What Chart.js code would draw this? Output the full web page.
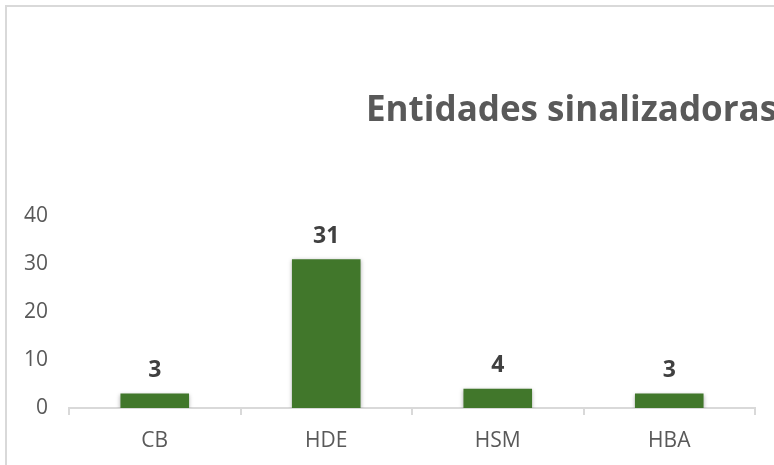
<!DOCTYPE html>
<html>
<head>
<meta charset="utf-8">
<script src="https://cdn.jsdelivr.net/npm/chart.js@4"></script>
<style>
  html, body { margin: 0; padding: 0; background: #ffffff; }
  #wrap { width: 774px; height: 465px; }
</style>
</head>
<body>
<div id="wrap"><canvas id="entidadesChart" width="774" height="465"></canvas></div>
<script>
// Chart data
const categories = ['CB', 'HDE', 'HSM', 'HBA'];
const counts = [3, 31, 4, 3];
const yTicks = [0, 10, 20, 30, 40];
const chartTitle = 'Entidades sinalizadoras';

const FONT = "'Open Sans', sans-serif";

// Outer frame + title (title runs off the right edge, as in the original)
const framePlugin = {
    id: 'frame',
    beforeDraw(chart) {
        const ctx = chart.ctx;
        ctx.save();
        ctx.fillStyle = '#ffffff';
        ctx.fillRect(0, 0, chart.width, chart.height);
        ctx.strokeStyle = '#d9d9d9';
        ctx.lineWidth = 2;
        ctx.strokeRect(6, 6, chart.width + 20, chart.height + 20);
        ctx.fillStyle = '#595959';
        ctx.font = 'bold 35px ' + FONT;
        ctx.textBaseline = 'middle';
        ctx.textAlign = 'left';
        ctx.fillText(chartTitle, 366, 111);
        ctx.restore();
    }
};

// Soft shadow under the bars
const barShadow = {
    id: 'barShadow',
    beforeDatasetsDraw(chart) {
        const ctx = chart.ctx;
        ctx.save();
        ctx.shadowColor = 'rgba(0, 0, 0, 0.3)';
        ctx.shadowBlur = 4;
        ctx.shadowOffsetX = 0;
        ctx.shadowOffsetY = 1;
    },
    afterDatasetsDraw(chart) {
        chart.ctx.restore();
    }
};

// Value labels above bars
const valueLabels = {
    id: 'valueLabels',
    afterDatasetsDraw(chart) {
        const ctx = chart.ctx;
        const meta = chart.getDatasetMeta(0);
        ctx.save();
        ctx.fillStyle = '#404040';
        ctx.font = 'bold 23px ' + FONT;
        ctx.textAlign = 'center';
        ctx.textBaseline = 'middle';
        meta.data.forEach(function(bar, i) {
            ctx.fillText(String(counts[i]), bar.x, bar.y - 23);
        });
        ctx.restore();
    }
};

const ctx = document.getElementById('entidadesChart').getContext('2d');
new Chart(ctx, {
    type: 'bar',
    data: {
        labels: categories,
        datasets: [{
            data: counts,
            backgroundColor: '#41772b',
            borderWidth: 0,
            barPercentage: 0.4,
            categoryPercentage: 1.0
        }]
    },
    options: {
        responsive: false,
        animation: false,
        layout: {
            padding: { top: 216, right: 19, left: 0, bottom: 0 }
        },
        plugins: {
            legend: { display: false },
            tooltip: { enabled: false }
        },
        scales: {
            x: {
                grid: {
                    display: true,
                    drawOnChartArea: false,
                    drawTicks: true,
                    tickLength: 7,
                    color: '#d9d9d9',
                    lineWidth: 2
                },
                border: { display: true, color: '#d9d9d9', width: 2 },
                ticks: {
                    color: '#595959',
                    font: { family: FONT, size: 21 },
                    padding: 13
                },
                afterFit(scale) { scale.height = 57; }
            },
            y: {
                min: 0,
                max: 40,
                afterBuildTicks(scale) {
                    scale.ticks = yTicks.map(function(v) { return { value: v }; });
                },
                grid: { display: false },
                border: { display: false },
                ticks: {
                    color: '#595959',
                    font: { family: FONT, size: 21 },
                    padding: 13
                },
                afterFit(scale) { scale.width = 69; }
            }
        }
    },
    plugins: [framePlugin, barShadow, valueLabels]
});
</script>
</body>
</html>
